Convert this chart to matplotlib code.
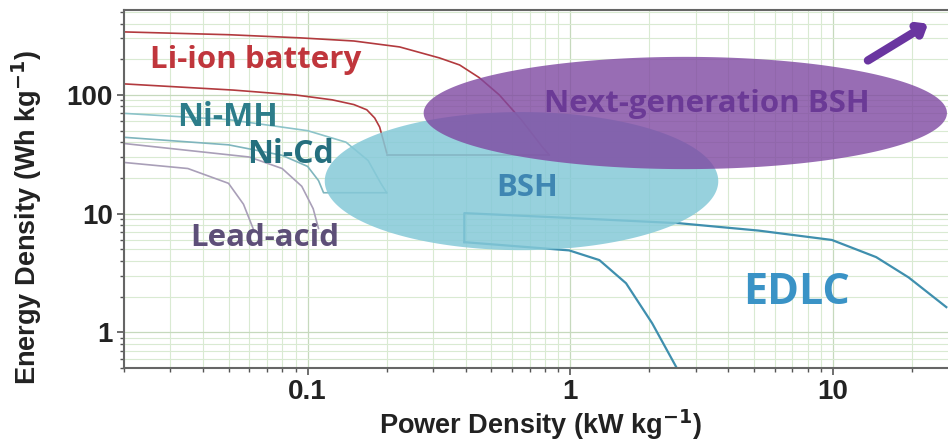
import numpy as np
import matplotlib.pyplot as plt
from matplotlib.ticker import LogLocator, NullFormatter, FixedLocator, FixedFormatter

# Curvas de Ragone (potencia kW/kg, energia Wh/kg)
li_up_p = [0.02, 0.05, 0.0934, 0.15, 0.224, 0.318, 0.379, 0.45, 0.537, 0.65, 0.783, 0.832]
li_up_e = [340, 322, 303, 285, 254, 205, 179, 140, 100, 62, 36.4, 31.2]
li_lo_p = [0.02, 0.052, 0.09, 0.124, 0.15, 0.168, 0.18, 0.188, 0.195, 0.2]
li_lo_e = [124, 110, 100, 91, 83, 75, 64, 53.7, 40, 32.5]
li_join_p = [0.2, 0.832]
li_join_e = [31.2, 31.2]

nimh_p = [0.02, 0.05, 0.1, 0.14, 0.17, 0.19, 0.2]
nimh_e = [70, 62, 50, 40, 28, 18, 15]
nicd_p = [0.02, 0.05, 0.08, 0.1, 0.11, 0.115, 0.2]
nicd_e = [44, 38, 31, 25, 19, 15, 15]
lead1_p = [0.02, 0.06, 0.08, 0.095, 0.105, 0.11]
lead1_e = [39, 30, 24, 17, 11, 7.5]
lead2_p = [0.02, 0.035, 0.05, 0.057, 0.062]
lead2_e = [27, 24, 18, 12, 7.5]

edlc_up_p = [0.395, 0.395, 0.99, 2.6, 5.2, 9.9, 14.6, 19.4, 27]
edlc_up_e = [5.75, 10.1, 9.2, 8.3, 7.2, 6.0, 4.3, 2.9, 1.63]
edlc_lo_p = [0.395, 0.99, 1.29, 1.63, 2.05, 2.53]
edlc_lo_e = [5.75, 4.9, 4.06, 2.59, 1.19, 0.51]

# Regiones BSH: centro (kW/kg, Wh/kg) y semiejes en decadas
bsh_center = (0.652, 18.8)
bsh_half = (0.749, 0.582)
next_center = (2.74, 70.5)
next_half = (0.996, 0.473)

labels = ['Li-ion battery', 'Ni-MH', 'Ni-Cd', 'Lead-acid', 'Next-generation BSH', 'BSH', 'EDLC']
label_p = [0.0634, 0.0497, 0.0861, 0.0687, 3.32, 0.687, 7.23]
label_e = [197, 65.2, 31.2, 6.2, 84, 16.4, 2.18]
label_col = ['#c0363c', '#2d7d8a', '#256f7e', '#5d4f78', '#6b3a96', '#3f86b2', '#3a93c6']
label_size = [22.5, 23, 23, 22.5, 22.5, 22.5, 31]

xticks = [0.1, 1, 10]
xtick_labels = ['0.1', '1', '10']
yticks = [1, 10, 100]
ytick_labels = ['1', '10', '100']

fig = plt.figure(figsize=(9.48, 4.41), dpi=100)
ax = fig.add_axes([0.1308, 0.1655, 0.8692, 0.8118])
ax.set_xscale('log')
ax.set_yscale('log')
ax.set_xlim(0.02, 27.4)
ax.set_ylim(0.5, 520)

# Rejilla verde clara
ax.grid(True, which='major', color='#c6d9bd', lw=0.9)
ax.grid(True, which='minor', color='#d9ead2', lw=0.8)
ax.set_axisbelow(True)

# Curvas
ax.plot(li_up_p, li_up_e, color='#b23a3e', lw=1.2, zorder=2)
ax.plot(li_lo_p, li_lo_e, color='#b23a3e', lw=1.2, zorder=2)
ax.plot(li_join_p, li_join_e, color='#8a4a5a', lw=1.2, zorder=2)
ax.plot(nimh_p, nimh_e, color='#8cc3c9', lw=1.2, zorder=2)
ax.plot(nicd_p, nicd_e, color='#7fb5bd', lw=1.2, zorder=2)
ax.plot(lead1_p, lead1_e, color='#a99fb8', lw=1.2, zorder=2)
ax.plot(lead2_p, lead2_e, color='#a99fb8', lw=1.2, zorder=2)
ax.plot(edlc_up_p, edlc_up_e, color='#3f8fae', lw=1.6, zorder=2)
ax.plot(edlc_lo_p, edlc_lo_e, color='#3f8fae', lw=1.6, zorder=2)

# Elipses en espacio logaritmico
t = np.linspace(0, 2 * np.pi, 300)
def region(center, half, color, alpha, z):
    lx = np.log10(center[0]) + half[0] * np.cos(t)
    ly = np.log10(center[1]) + half[1] * np.sin(t)
    ax.fill(10 ** lx, 10 ** ly, color=color, alpha=alpha, lw=0, zorder=z)

region(bsh_center, bsh_half, '#85c9d8', 0.85, 3)
region(next_center, next_half, '#7f48a2', 0.8, 4)

for txt, p, e, c, s in zip(labels, label_p, label_e, label_col, label_size):
    ax.text(p, e, txt, color=c, fontsize=s, fontweight='bold', family='Open Sans',
            ha='center', va='center', zorder=5)

# Flecha de tendencia
ax.annotate('', xy=(23.5, 410), xytext=(13.3, 190),
            arrowprops=dict(arrowstyle='-|>,head_width=0.4,head_length=0.5',
                            color='#6a35a0', lw=6), zorder=6)

ax.xaxis.set_major_locator(FixedLocator(xticks))
ax.xaxis.set_major_formatter(FixedFormatter(xtick_labels))
ax.yaxis.set_major_locator(FixedLocator(yticks))
ax.yaxis.set_major_formatter(FixedFormatter(ytick_labels))
ax.xaxis.set_minor_locator(LogLocator(base=10, subs=np.arange(2, 10)))
ax.yaxis.set_minor_locator(LogLocator(base=10, subs=np.arange(2, 10)))
ax.xaxis.set_minor_formatter(NullFormatter())
ax.yaxis.set_minor_formatter(NullFormatter())

for lab in ax.get_xticklabels() + ax.get_yticklabels():
    lab.set_fontweight('bold')
    lab.set_fontsize(20)
    lab.set_family('Liberation Sans')
    lab.set_color('#222222')
ax.tick_params(which='major', length=5, width=1.2, color='#555555', pad=3)
ax.tick_params(which='minor', length=3, width=1, color='#555555')

for side in ['left', 'bottom', 'top']:
    ax.spines[side].set_color('#666666')
    ax.spines[side].set_linewidth(1.5)
ax.spines['right'].set_visible(False)

ax.set_xlabel('Power Density (kW kg$^{\\mathbf{-1}}$)', fontsize=19.5, fontweight='bold',
              family='Liberation Sans', color='#222222')
ax.set_ylabel('Energy Density (Wh kg$^{\\mathbf{-1}}$)', fontsize=19.5, fontweight='bold',
              family='Liberation Sans', color='#222222')
ax.xaxis.set_label_coords(0.506, -0.11)
ax.yaxis.set_label_coords(-0.097, 0.42)

fig.savefig('out.png', dpi=100)
